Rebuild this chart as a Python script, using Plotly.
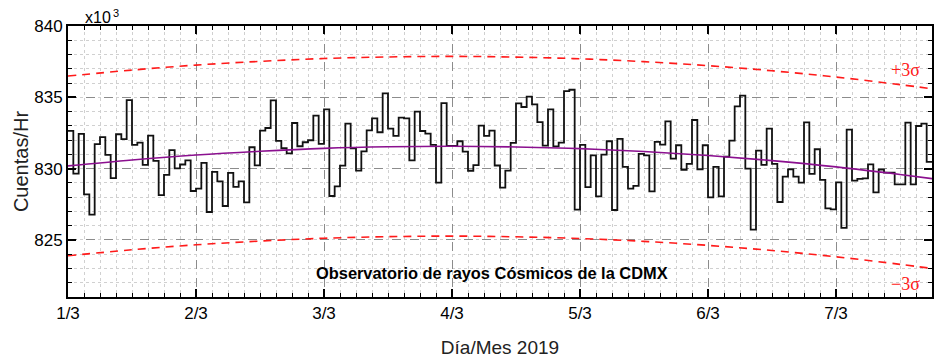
import plotly.graph_objects as go

# Hourly counts (x10^3 counts/hr), starting 1/3 00:00, one value per hour
counts = [
    832.65, 829.65, 832.43, 828.20, 826.78, 831.72, 832.21, 830.97, 829.34, 832.41,
    832.07, 834.80, 831.67, 831.82, 830.27, 832.31, 830.54, 828.14, 829.56, 831.30,
    830.02, 830.29, 830.58, 828.43, 828.60, 830.40, 826.96, 829.77, 829.11, 827.38,
    829.70, 828.72, 829.11, 827.63, 831.50, 830.23, 832.66, 832.85, 834.79, 831.94,
    831.43, 831.07, 833.20, 831.57, 831.85, 831.99, 833.72, 831.73, 834.15, 828.08,
    828.76, 830.21, 833.15, 831.43, 829.86, 831.21, 832.68, 833.53, 832.55, 835.27,
    832.80, 832.29, 833.58, 833.53, 830.58, 834.00, 832.64, 832.45, 831.66, 829.02,
    834.59, 831.59, 831.59, 831.92, 831.19, 829.85, 830.25, 833.01, 832.30, 832.67,
    830.22, 828.67, 829.86, 831.81, 834.57, 834.32, 835.05, 834.50, 833.26, 831.62,
    834.15, 831.56, 831.82, 835.43, 835.53, 827.13, 831.66, 828.71, 830.93, 828.06,
    830.98, 831.92, 827.10, 832.08, 830.12, 828.60, 828.79, 831.03, 830.93, 828.41,
    831.87, 831.68, 833.32, 830.70, 831.64, 829.91, 830.33, 833.41, 829.95, 831.64,
    827.99, 830.12, 828.06, 830.84, 831.96, 834.37, 835.12, 830.00, 825.72, 831.26,
    830.26, 832.80, 830.33, 827.66, 829.44, 829.95, 829.44, 829.02, 833.25, 829.63,
    831.36, 829.21, 827.22, 827.15, 829.04, 825.84, 832.73, 829.16, 829.28, 829.32,
    830.30, 828.34, 829.93, 829.72, 829.72, 828.90, 828.90, 833.22, 828.90, 832.99,
    833.15, 830.47,
]

# Fit curve and +/-3 sigma bands (read at every half day)
fit_days = [0, 0.5, 1, 1.5, 2, 2.5, 3, 3.5, 4, 4.5, 5, 5.5, 6, 6.5, 6.75]
fit_vals = [830.19, 830.61, 830.96, 831.22, 831.42, 831.53, 831.57, 831.52,
            831.40, 831.20, 830.92, 830.56, 830.12, 829.59, 829.30]
upper_vals = [836.49, 836.91, 837.26, 837.52, 837.72, 837.83, 837.87, 837.82,
              837.70, 837.50, 837.22, 836.86, 836.42, 835.89, 835.60]
lower_vals = [823.89, 824.31, 824.66, 824.92, 825.12, 825.23, 825.27, 825.22,
              825.10, 824.90, 824.62, 824.26, 823.82, 823.29, 823.00]

day_ticks = [0, 1, 2, 3, 4, 5, 6]
day_labels = ["1/3", "2/3", "3/3", "4/3", "5/3", "6/3", "7/3"]
y_ticks = [825, 830, 835, 840]

x_hours = [i / 24 for i in range(len(counts))] + [len(counts) / 24]
y_steps = counts + [counts[-1]]

FONT = "Liberation Sans, Arial, sans-serif"
SERIF = "Liberation Serif"
RED = "#ff1a1a"

fig = go.Figure()
fig.add_trace(go.Scatter(x=fit_days, y=upper_vals, mode="lines", line_shape="spline",
                         line=dict(color=RED, width=1.6, dash="8px,6px"), hoverinfo="skip"))
fig.add_trace(go.Scatter(x=fit_days, y=lower_vals, mode="lines", line_shape="spline",
                         line=dict(color=RED, width=1.6, dash="8px,6px"), hoverinfo="skip"))
fig.add_trace(go.Scatter(x=x_hours, y=y_steps, mode="lines", line_shape="hv",
                         line=dict(color="#111111", width=1.8)))
fig.add_trace(go.Scatter(x=fit_days, y=fit_vals, mode="lines", line_shape="spline",
                         line=dict(color="#8B108F", width=1.6)))

axis_common = dict(
    showline=True, linewidth=2, linecolor="black", mirror="allticks",
    ticks="inside", ticklen=8, tickwidth=1.5, tickcolor="black",
    showgrid=True, gridcolor="#8c8c8c", griddash="dash", gridwidth=1,
    zeroline=False, automargin=False,
    tickfont=dict(family=FONT, size=17, color="black"),
)

fig.update_xaxes(
    **axis_common,
    range=[0, 6.75], tickvals=day_ticks, ticktext=day_labels,
    minor=dict(dtick=0.125, ticks="inside", ticklen=4, tickwidth=1.2, tickcolor="black",
               showgrid=True, gridcolor="#d0d0d0", griddash="dot", gridwidth=1),
    title=dict(text="Día/Mes 2019", font=dict(family=FONT, size=19, color="#222"), standoff=18),
)
fig.update_yaxes(
    **axis_common,
    range=[821, 840], tickvals=y_ticks,
    minor=dict(dtick=1, ticks="inside", ticklen=4, tickwidth=1.2, tickcolor="black",
               showgrid=True, gridcolor="#d0d0d0", griddash="dot", gridwidth=1),
    title=dict(text="Cuentas/Hr", font=dict(family=FONT, size=20, color="#222"), standoff=0),
)

fig.add_annotation(x=0.0174, y=1.031, xref="paper", yref="paper", xanchor="left", yanchor="middle",
                   text="x10", showarrow=False, font=dict(family=FONT, size=16, color="black"))
fig.add_annotation(x=0.0495, y=1.047, xref="paper", yref="paper", xanchor="left", yanchor="middle",
                   text="3", showarrow=False, font=dict(family=FONT, size=11, color="black"))
fig.add_annotation(x=3.31, y=822.7, xref="x", yref="y", text="<b>Observatorio de rayos Cósmicos de la CDMX</b>",
                   showarrow=False, font=dict(family=FONT, size=16.4, color="black"))
fig.add_annotation(x=6.54, y=836.9, xref="x", yref="y", text="+3σ", showarrow=False,
                   font=dict(family=SERIF, size=18, color=RED))
fig.add_annotation(x=6.54, y=821.9, xref="x", yref="y", text="−3σ", showarrow=False,
                   font=dict(family=SERIF, size=18, color=RED))

# The page body adds an 8px offset; margins compensate so the plot area sits at 68..932 x 26..297
fig.update_layout(
    width=946, height=361,
    margin=dict(l=60, r=22, t=18, b=72),
    plot_bgcolor="white", paper_bgcolor="white",
    showlegend=False,
)

fig.write_html("out.html")
